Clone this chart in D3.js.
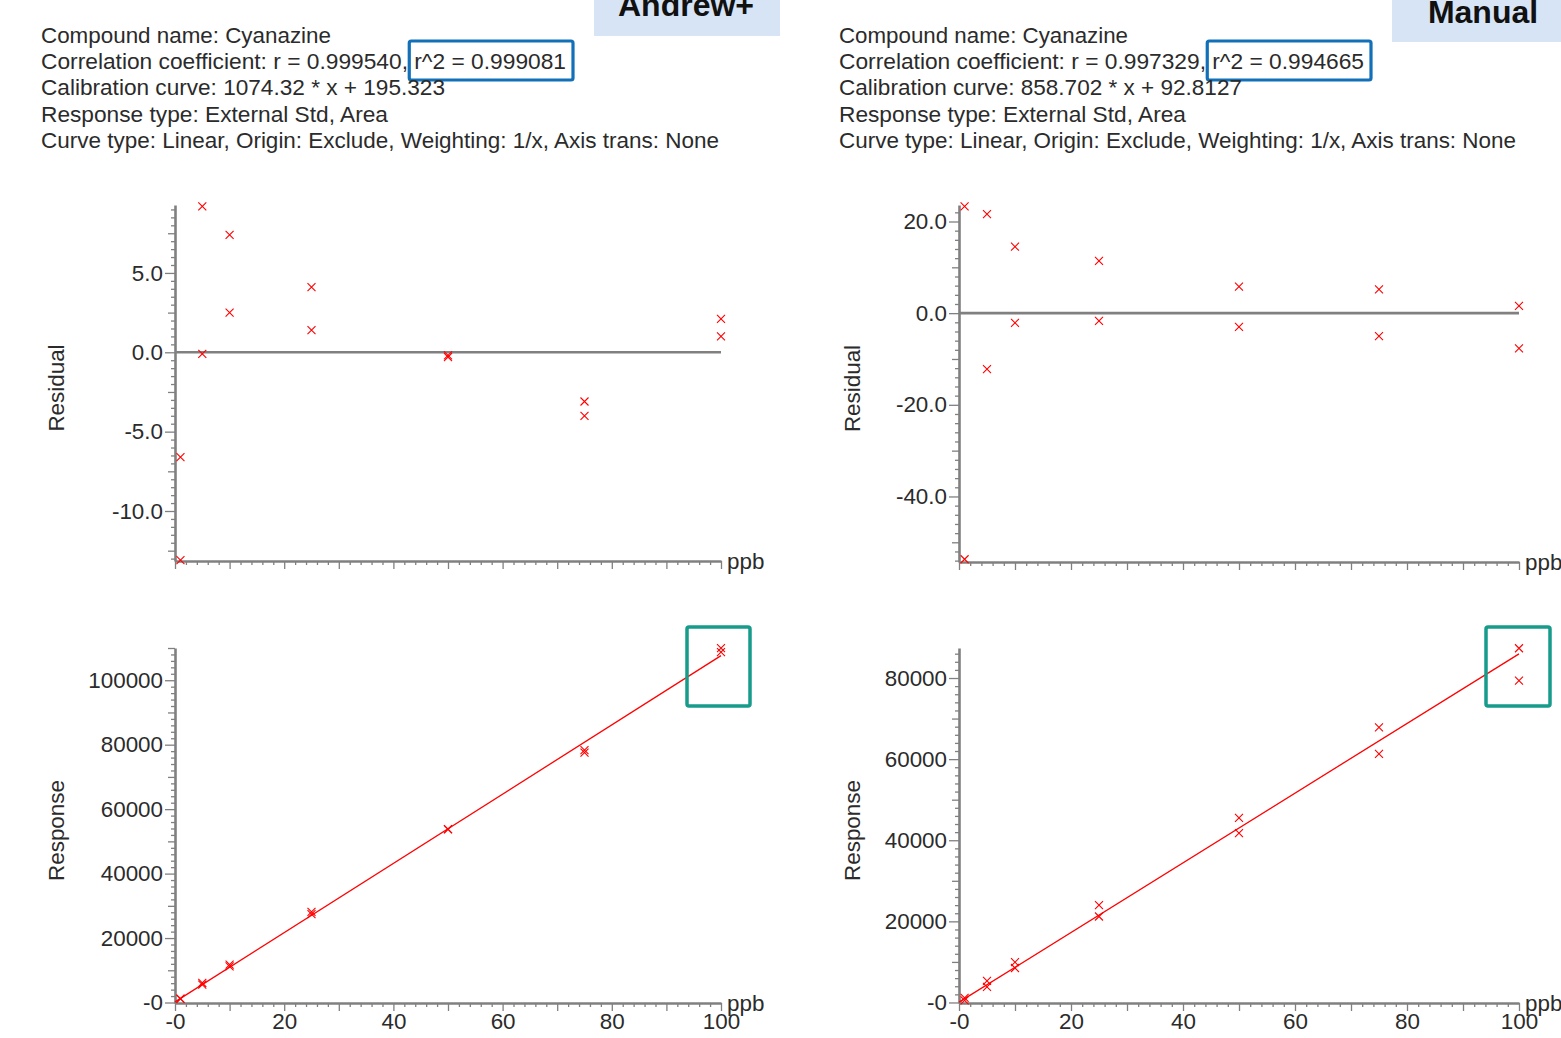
<!DOCTYPE html>
<html><head><meta charset="utf-8">
<script src="https://cdn.jsdelivr.net/npm/d3@7"></script>
<style>
body{margin:0;background:#fff}
svg{display:block}
text{font-family:"Liberation Sans", Arial, sans-serif;fill:#2b2b2b}
</style>
</head><body><svg id="c" width="1561" height="1038"></svg>
<script>
// ---------- data ----------
const levels = [1,1, 5,5, 10,10, 25,25, 50,50, 75,75, 100,100];
const andrewResidual = [-6.6,-13.1, 9.2,-0.1, 7.4,2.5, 4.1,1.4, -0.2,-0.3, -3.1,-4.0, 2.1,1.0];
const andrewResponse = [1200,1130, 6060,5560, 11730,11210, 28150,27440, 53780,53700, 78290,77520, 109930,108700];
const manualResidual = [23.3,-53.7, 21.6,-12.2, 14.5,-2.1, 11.4,-1.7, 5.8,-3.0, 5.2,-5.0, 1.6,-7.7];
const manualResponse = [1152,491, 5314,3863, 9925,8500, 24008,21196, 45518,41740, 67845,61276, 87337,79351];
const andrewFit = [1074.32, 195.323];   // slope, intercept
const manualFit = [858.702, 92.8127];
const xTickLabels = [0,20,40,60,80,100];
const andrewResidualTicks = [-10,-5,0,5];
const manualResidualTicks = [-40,-20,0,20];
const andrewResponseTicks = [0,20000,40000,60000,80000,100000];
const manualResponseTicks = [0,20000,40000,60000,80000];
const andrewHeader = [
  "Compound name: Cyanazine",
  "Correlation coefficient: r = 0.999540, r^2 = 0.999081",
  "Calibration curve: 1074.32 * x + 195.323",
  "Response type: External Std, Area",
  "Curve type: Linear, Origin: Exclude, Weighting: 1/x, Axis trans: None"
];
const manualHeader = [
  "Compound name: Cyanazine",
  "Correlation coefficient: r = 0.997329, r^2 = 0.994665",
  "Calibration curve: 858.702 * x + 92.8127",
  "Response type: External Std, Area",
  "Curve type: Linear, Origin: Exclude, Weighting: 1/x, Axis trans: None"
];
const methodLabels = ["Andrew+", "Manual"];

// ---------- layout ----------
const andrewHeaderWidths = [290, 525, 404, 347, 678];
const manualHeaderWidths = [289, 525, 403, 347, 677];

// ---------- drawing ----------
const svg = d3.select("#c");
const AX = "#808080";
const RED = "#ff0000";
const FS = "22.4px";

function header(lines, widths, x0, label, labelBox) {
  const g = svg.append("g");
  lines.forEach((s, i) => {
    const t = g.append("text").attr("x", x0).attr("y", 42.5 + i * 26.4)
      .attr("textLength", widths[i]).attr("lengthAdjust", "spacingAndGlyphs")
      .style("font-size", FS).text(s);
    if (i === 1) {
      const idx = s.indexOf("r^2");
      const node = t.node();
      const sx = node.getStartPositionOfChar(idx).x;
      const ex = node.getEndPositionOfChar(s.length - 1).x;
      g.append("rect").attr("x", sx - 5).attr("y", 41).attr("width", ex - sx + 12).attr("height", 39)
        .attr("rx", 2).attr("fill", "none").attr("stroke", "#1170b8").attr("stroke-width", 3.2);
    }
  });
  g.append("rect").attr("x", labelBox[0]).attr("y", -5).attr("width", labelBox[1]).attr("height", labelBox[2] + 5)
    .attr("fill", "#d6e4f6");
  g.append("text").attr("x", labelBox[0] + labelBox[3]).attr("y", labelBox[4]).attr("text-anchor", "middle")
    .style("font-size", "32px").style("font-weight", "bold").style("fill", "#111").text(label);
}
header(andrewHeader, andrewHeaderWidths, 41, methodLabels[0], [594, 186, 36, 92, 16]);
header(manualHeader, manualHeaderWidths, 839, methodLabels[1], [1392, 175, 42, 91, 23]);

function styleAxis(g) {
  g.select(".domain").attr("stroke", AX).attr("stroke-width", 2.6);
  g.selectAll(".tick line").attr("stroke", AX).attr("stroke-width", 1.3);
  g.selectAll(".tick text").style("font-size", FS).style("fill", "#2b2b2b");
}

function rangeSteps(lo, hi, step) {
  const out = [];
  for (let k = Math.ceil(lo / step - 1e-9); k * step <= hi + 1e-9; k++) out.push(+(k * step).toFixed(6));
  return out;
}

function panel(cfg) {
  const g = svg.append("g");
  const x = d3.scaleLinear().domain([0, 100]).range([cfg.x0, cfg.x1]);
  const y = d3.scaleLinear().domain(cfg.yDomain).range([cfg.yBot, cfg.yTop]);
  const [lo, hi] = cfg.yDomain;

  const minor = rangeSteps(lo, hi, cfg.minor).filter(v => Math.abs(v / cfg.medium - Math.round(v / cfg.medium)) > 1e-6);
  const medium = rangeSteps(lo, hi, cfg.medium).filter(v => Math.abs(v / cfg.major - Math.round(v / cfg.major)) > 1e-6);
  const gy1 = g.append("g").attr("transform", `translate(${cfg.x0},0)`)
    .call(d3.axisLeft(y).tickValues(minor).tickSize(4).tickSizeOuter(0).tickFormat(""));
  styleAxis(gy1);
  const gy2 = g.append("g").attr("transform", `translate(${cfg.x0},0)`)
    .call(d3.axisLeft(y).tickValues(medium).tickSize(7).tickSizeOuter(0).tickFormat(""));
  styleAxis(gy2); gy2.select(".domain").remove();
  const gy3 = g.append("g").attr("transform", `translate(${cfg.x0},0)`)
    .call(d3.axisLeft(y).tickValues(cfg.yTicks).tickSize(10).tickSizeOuter(0).tickPadding(2).tickFormat(cfg.fmt));
  styleAxis(gy3); gy3.select(".domain").remove();

  const xMinor = rangeSteps(0, 100, 2).filter(v => v % 10 !== 0);
  const gx1 = g.append("g").attr("transform", `translate(0,${cfg.yBot})`)
    .call(d3.axisBottom(x).tickValues(xMinor).tickSize(4).tickSizeOuter(0).tickFormat(""));
  styleAxis(gx1);
  const gx2 = g.append("g").attr("transform", `translate(0,${cfg.yBot})`)
    .call(d3.axisBottom(x).tickValues(rangeSteps(0, 100, 10)).tickSize(8).tickSizeOuter(0).tickPadding(2)
      .tickFormat(v => cfg.xLabels && xTickLabels.includes(v) ? (v === 0 ? "-0" : String(v)) : ""));
  styleAxis(gx2); gx2.select(".domain").remove();

  g.append("text").attr("x", cfg.x1 + 6).attr("y", cfg.yBot).attr("dominant-baseline", "central")
    .style("font-size", FS).text("ppb");

  g.append("text").attr("transform", `translate(${cfg.titleX},${(cfg.yTop + cfg.yBot) / 2 + 5}) rotate(-90)`)
    .attr("text-anchor", "middle").attr("dominant-baseline", "central")
    .style("font-size", FS).text(cfg.title);

  if (cfg.kind === "res") {
    g.append("line").attr("x1", x(0)).attr("x2", x(100)).attr("y1", y(0)).attr("y2", y(0))
      .attr("stroke", AX).attr("stroke-width", 2.6);
  } else {
    const line = d3.line().x(d => x(d)).y(d => y(cfg.fit[0] * d + cfg.fit[1]));
    g.append("path").datum([0, 100]).attr("d", line).attr("fill", "none")
      .attr("stroke", RED).attr("stroke-width", 1.3);
  }

  const sym = d3.symbol().type(d3.symbolX).size(43.5);
  g.append("g").selectAll("path").data(cfg.values).join("path")
    .attr("transform", (d, i) => `translate(${x(levels[i])},${y(d)})`)
    .attr("d", sym).attr("fill", "none").attr("stroke", RED).attr("stroke-width", 1.1);
}

const locale = d3.formatLocale({decimal: ".", thousands: "", grouping: [3], currency: ["", ""], minus: "-"});
const fmtRes = locale.format(".1f");
const fmtResp = v => v === 0 ? "-0" : String(v);

panel({kind: "res", x0: 175, x1: 721, yTop: 205, yBot: 561, yDomain: [-13.15, 9.28],
  minor: 0.5, medium: 2.5, major: 5, yTicks: andrewResidualTicks, fmt: fmtRes,
  values: andrewResidual, title: "Residual", titleX: 56, xLabels: false});
panel({kind: "res", x0: 959, x1: 1519, yTop: 205, yBot: 562, yDomain: [-54.3, 23.6],
  minor: 2, medium: 10, major: 20, yTicks: manualResidualTicks, fmt: fmtRes,
  values: manualResidual, title: "Residual", titleX: 852, xLabels: false});
panel({kind: "resp", x0: 175, x1: 721, yTop: 648, yBot: 1003, yDomain: [-150, 110000],
  minor: 2000, medium: 10000, major: 20000, yTicks: andrewResponseTicks, fmt: fmtResp,
  values: andrewResponse, fit: andrewFit, title: "Response", titleX: 56, xLabels: true});
panel({kind: "resp", x0: 959, x1: 1519, yTop: 648, yBot: 1003, yDomain: [-130, 87400],
  minor: 2000, medium: 10000, major: 20000, yTicks: manualResponseTicks, fmt: fmtResp,
  values: manualResponse, fit: manualFit, title: "Response", titleX: 852, xLabels: true});

svg.append("rect").attr("x", 687).attr("y", 627).attr("width", 63).attr("height", 79).attr("rx", 2)
  .attr("fill", "none").attr("stroke", "#179b8a").attr("stroke-width", 3.5);
svg.append("rect").attr("x", 1486).attr("y", 627).attr("width", 64).attr("height", 79).attr("rx", 2)
  .attr("fill", "none").attr("stroke", "#179b8a").attr("stroke-width", 3.5);
</script></body></html>
